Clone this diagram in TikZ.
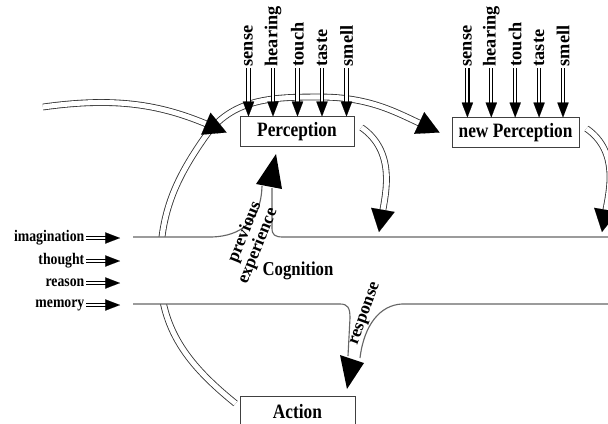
\documentclass[tikz,border=0pt]{standalone}
\usepackage{fontspec}
\setmainfont{Liberation Serif}[FakeStretch=0.85]
\newfontfamily\plainfont{Liberation Serif}
\usetikzlibrary{arrows.meta}
\tikzset{
  box/.style={draw=black!75, fill=white, line width=0.6pt, minimum height=0.73cm, inner sep=0pt, font=\bfseries\fontsize{14.5}{15}\selectfont},
  inlab/.style={font=\bfseries\fontsize{11.5}{12}\selectfont, inner sep=1pt, anchor=east},
  senselab/.style={font=\plainfont\bfseries\fontsize{13}{13}\selectfont, rotate=90, anchor=west, inner sep=1pt},
  slantlab/.style={font=\plainfont\bfseries\fontsize{12.5}{9.5}\selectfont, inner sep=0pt},
  chan/.style={draw=black!60, line width=0.8pt},
  head/.style={fill=black},
  band/.style={draw=black!80, double, double distance=3.6pt, line width=0.6pt, shorten >=14pt},
  band tip/.style={draw=white, line width=0.05pt, -{Triangle[color=black, length=16pt, width=17pt]}},
  twin/.style={draw=black, double, double distance=1.5pt, line width=0.75pt, shorten >=8pt},
  twin tip/.style={draw=white, line width=0.05pt, -{Triangle[color=black, length=10.5pt, width=8pt]}}
}
\newcommand{\dblarrow}[2]{\draw[#1] #2; \draw[#1 tip] #2;}
\begin{document}
\begin{tikzpicture}[x=0.025cm, y=-0.025cm]
    \useasboundingbox (0,0) rectangle (608,423);
    \clip (0,0) rectangle (608,423);
    \node [box, minimum width=2.85cm] (percep) at (297,131.5) {Perception};
    \node [box, minimum width=3.175cm] (newpercep) at (515.5,132.5) {new Perception};
    \node [box, minimum width=2.875cm] (action) at (297.5,411.5) {Action};
    \coordinate (src) at (43,107);
    \coordinate (drop1) at (379,232);
    \coordinate (drop2) at (602,232);
    \coordinate (chin) at (120,0);
    \dblarrow{band}{([shift={(-4,-8)}]action.west) to[out=141,in=-90] (160,270) to[out=90,in=-125] (205,137) to[out=55,in=180] (320,97) to[out=0,in=155] ([shift={(-12,0)}]newpercep.west)}
    \dblarrow{band}{(src) to[out=8,in=157] ([shift={(-13,1)}]percep.west)}
    \dblarrow{band}{([shift={(7,-4)}]percep.east) to[out=-35,in=80] (drop1)}
    \dblarrow{band}{([shift={(7,-4)}]newpercep.east) to[out=-35,in=80] (drop2)}
    \fill [white] (133,237) rectangle (608,304);
    \draw [chan] (133,237) -- (212,237) .. controls (240,236) and (261,222) .. (262,186);
    \draw [chan] (272,188) -- (272,228) .. controls (272,235) and (275,237) .. (283,237) -- (608,237);
    \fill [head] (276,154) -- (256,184) -- (282,189) -- cycle;
    \draw [chan] (133,304) -- (340,304) .. controls (348,304) and (350,308) .. (350,318) -- (348,356);
    \draw [chan] (608,304) -- (402,304) .. controls (380,305) and (364,325) .. (360,358);
    \fill [head] (347,389) -- (340,355) -- (364,363) -- cycle;
    \node [font=\bfseries\fontsize{14}{14}\selectfont] (cog) at (298,271) {Cognition};
    \node [slantlab, rotate=68, align=right] (prev) at (250,243) {previous\\experience};
    \node [slantlab, rotate=70] (resp) at (366,314) {response};
    \foreach \w/\y [count=\i] in {imagination/238, thought/261, reason/283, memory/305} {
        \node [inlab] (in\i) at (86,\y) {\w};
        \dblarrow{twin}{(in\i.east) -- (in\i.east -| chin)}
    }
    \foreach \w [count=\i] in {sense,hearing,touch,taste,smell} {
        \node [senselab] (ps\i) at ({297.5+24.5*(\i-3)},68) {\w};
        \dblarrow{twin}{(ps\i.west) -- (ps\i.west |- percep.north)}
        \node [senselab] (ns\i) at ({515.2+23.9*(\i-3)},68) {\w};
        \dblarrow{twin}{(ns\i.west) -- (ns\i.west |- newpercep.north)}
    }
\end{tikzpicture}
\end{document}
